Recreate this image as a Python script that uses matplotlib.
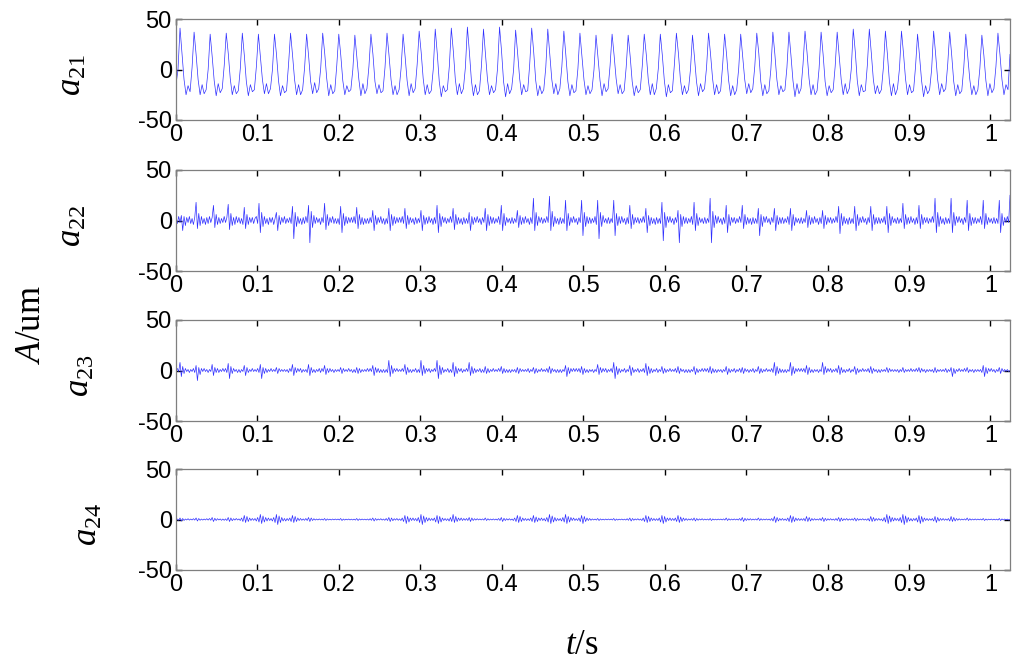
import numpy as np
import matplotlib

matplotlib.use("Agg")
import matplotlib.pyplot as plt

plt.rcParams.update(
    {
        "font.family": "Liberation Sans",
        "mathtext.fontset": "custom",
        "mathtext.rm": "Liberation Serif",
        "mathtext.it": "Liberation Serif:italic",
    }
)

# ---------------------------------------------------------------------------
# Data (one row ~ one shaft revolution)
# ---------------------------------------------------------------------------
T_END = 1.024
Y_TICKS = [-50, 0, 50]
X_TICKS = [0, 0.1, 0.2, 0.3, 0.4, 0.5, 0.6, 0.7, 0.8, 0.9, 1.0]
X_TICK_LABELS = ["0", "0.1", "0.2", "0.3", "0.4", "0.5", "0.6", "0.7", "0.8", "0.9", "1"]
LABELS = [r"$a_{21}$", r"$a_{22}$", r"$a_{23}$", r"$a_{24}$"]

a21 = [
    [-15, 0, 41, 16, -10, -25, -16, -22],
    [2, 37, 15, -10, -25, -15, -24, -20],
    [0, 35, 13, -11, -26, -14, -23, -19],
    [4, 36, 16, -9, -25, -16, -24, -21],
    [1, 36, 14, -12, -26, -15, -22, -20],
    [3, 35, 12, -10, -24, -14, -24, -19],
    [0, 35, 15, -11, -26, -16, -23, -21],
    [5, 36, 14, -10, -25, -15, -25, -20],
    [2, 35, 13, -12, -24, -13, -23, -19],
    [1, 36, 16, -9, -26, -15, -24, -21],
    [4, 35, 14, -11, -25, -16, -22, -20],
    [0, 34, 12, -10, -26, -14, -24, -19],
    [3, 35, 15, -12, -24, -15, -23, -21],
    [2, 36, 14, -10, -25, -16, -25, -20],
    [1, 35, 13, -11, -26, -14, -23, -19],
    [5, 38, 17, -9, -25, -15, -24, -21],
    [0, 40, 16, -12, -27, -16, -22, -20],
    [3, 41, 18, -10, -25, -14, -24, -19],
    [2, 42, 17, -11, -26, -15, -25, -21],
    [4, 40, 15, -10, -25, -16, -23, -20],
    [1, 42, 18, -12, -27, -14, -24, -19],
    [0, 39, 16, -9, -25, -15, -22, -21],
    [5, 41, 17, -11, -26, -16, -24, -20],
    [2, 40, 15, -10, -24, -14, -25, -19],
    [3, 38, 14, -12, -26, -15, -23, -21],
    [1, 36, 13, -10, -25, -16, -24, -20],
    [0, 34, 12, -11, -26, -14, -22, -19],
    [4, 35, 14, -9, -24, -15, -24, -21],
    [2, 34, 13, -12, -26, -16, -23, -20],
    [3, 35, 15, -10, -25, -14, -25, -19],
    [1, 35, 14, -11, -27, -15, -23, -21],
    [5, 36, 16, -10, -25, -16, -24, -20],
    [0, 34, 12, -12, -26, -14, -22, -19],
    [2, 36, 15, -9, -25, -15, -24, -21],
    [4, 35, 14, -11, -26, -16, -25, -20],
    [1, 35, 13, -10, -24, -14, -23, -19],
    [3, 36, 16, -12, -26, -15, -24, -21],
    [0, 37, 15, -10, -25, -16, -22, -20],
    [2, 37, 14, -11, -27, -14, -24, -19],
    [5, 38, 17, -9, -25, -15, -25, -21],
    [1, 37, 15, -12, -26, -16, -23, -20],
    [3, 37, 14, -10, -25, -14, -24, -19],
    [0, 40, 18, -11, -26, -15, -22, -21],
    [4, 40, 16, -10, -24, -16, -24, -20],
    [2, 38, 15, -12, -26, -14, -25, -19],
    [1, 38, 16, -9, -25, -15, -23, -21],
    [3, 35, 13, -11, -27, -16, -24, -20],
    [0, 38, 15, -10, -25, -14, -22, -19],
    [5, 37, 14, -12, -26, -15, -24, -21],
    [2, 35, 13, -10, -25, -16, -25, -20],
    [1, 34, 14, -11, -26, -14, -23, -19],
    [3, 36, 15, -10, -25, -15, -20, 15],
]

a22 = [
    [0, -3, 4, -2, 5, -10, 4, -5, 3, -2, 4, -3],
    [2, -4, 3, 18, -8, 7, -5, 4, -3, 2, -4, 3],
    [-3, 4, -2, 3, 15, -7, 6, -4, 3, -3, 2, -2],
    [4, -2, 3, 16, -9, 7, -5, 3, -4, 4, -2, 3],
    [-3, 2, -4, 13, -8, 6, -4, 3, -2, 3, -3, 2],
    [4, -3, 17, -12, 8, -6, 4, -3, 2, -4, 3, -2],
    [3, -4, 2, 8, -10, 5, -4, 3, -2, 4, -3, 2],
    [-2, 3, -3, 14, -18, 8, -6, 4, -3, 2, -4, 3],
    [-3, 4, -2, 15, -22, 9, -7, 5, -3, 3, -2, 2],
    [-4, 3, -2, 17, -9, 6, -5, 3, -2, 4, -3, 2],
    [-3, 2, -4, 14, -12, 7, -5, 4, -3, 3, -2, 3],
    [-2, 4, -3, 13, -8, 6, -4, 3, -4, 2, -3, 2],
    [-3, 3, -2, 10, -10, 5, -4, 3, -2, 4, -3, 2],
    [-4, 2, -3, 12, -10, 6, -5, 4, -3, 3, -2, 3],
    [-2, 4, -3, 12, -8, 5, -4, 3, -2, 2, -4, 3],
    [-3, 2, -2, 10, -10, 5, -4, 3, -3, 4, -2, 2],
    [-4, 3, -3, 15, -12, 7, -6, 4, -2, 3, -3, 2],
    [-2, 4, -2, 12, -9, 6, -4, 3, -3, 2, -4, 3],
    [-3, 2, -3, 8, -10, 4, -4, 3, -2, 4, -2, 2],
    [-4, 3, -2, 12, -10, 6, -5, 4, -3, 3, -3, 2],
    [-2, 4, -4, 15, -10, 7, -5, 3, -2, 2, -3, 3],
    [-3, 2, -2, 10, -7, 5, -4, 3, -3, 4, -2, 2],
    [-4, 3, -3, 22, -10, 8, -5, 4, -2, 3, -3, 2],
    [-2, 4, -2, 24, -10, 9, -6, 4, -3, 2, -4, 3],
    [-3, 2, -3, 20, -10, 7, -5, 3, -2, 4, -2, 2],
    [-4, 3, -2, 20, -15, 8, -6, 4, -3, 3, -3, 2],
    [-2, 4, -4, 20, -18, 8, -6, 5, -2, 2, -3, 3],
    [-3, 2, -2, 20, -15, 7, -5, 4, -3, 4, -2, 2],
    [-4, 3, -3, 15, -8, 6, -4, 3, -2, 3, -3, 2],
    [-2, 4, -2, 12, -12, 5, -5, 3, -3, 2, -4, 3],
    [-3, 2, -3, 18, -20, 8, -7, 4, -2, 4, -2, 2],
    [-4, 3, -2, 10, -22, 6, -6, 4, -3, 3, -3, 2],
    [-2, 4, -4, 18, -10, 7, -5, 3, -2, 2, -3, 3],
    [-3, 2, -2, 22, -22, 9, -7, 5, -3, 4, -2, 2],
    [-4, 3, -3, 15, -12, 6, -5, 3, -2, 3, -3, 2],
    [-2, 4, -2, 15, -8, 6, -4, 3, -3, 2, -4, 3],
    [-3, 2, -3, 12, -15, 6, -6, 4, -2, 4, -2, 2],
    [-4, 3, -2, 12, -10, 5, -4, 3, -3, 3, -3, 2],
    [-2, 4, -4, 12, -10, 6, -5, 3, -2, 2, -3, 3],
    [-3, 2, -2, 10, -7, 5, -4, 3, -3, 4, -2, 2],
    [-4, 3, -3, 10, -8, 5, -4, 3, -2, 3, -3, 2],
    [-2, 4, -2, 14, -13, 7, -5, 4, -3, 2, -4, 3],
    [-3, 2, -3, 14, -10, 6, -5, 3, -2, 4, -2, 2],
    [-4, 3, -2, 14, -10, 6, -4, 3, -3, 3, -3, 2],
    [-2, 4, -4, 14, -12, 7, -5, 4, -2, 2, -3, 3],
    [-3, 2, -2, 17, -8, 6, -4, 3, -3, 4, -2, 2],
    [-4, 3, -3, 15, -8, 6, -4, 3, -2, 3, -3, 2],
    [-2, 4, -2, 22, -12, 8, -6, 4, -3, 2, -4, 3],
    [-3, 2, -3, 22, -12, 8, -5, 4, -2, 4, -2, 2],
    [-4, 3, -2, 20, -10, 7, -5, 3, -3, 3, -3, 2],
    [-2, 4, -4, 20, -8, 7, -4, 3, -2, 2, -3, 3],
    [-3, 2, -3, 20, -12, 7, -5, 3, -2, 4, -2, 25],
]

a23 = [
    [0, 2, -1, 8, -6, 4, -3, 2, -1, 1, -2, 1],
    [-1, 2, -2, 5, -10, 3, -4, 2, -1, 2, -1, 1],
    [-2, 1, -1, 6, -5, 3, -2, 2, -2, 1, -1, 2],
    [-1, 2, -2, 7, -8, 4, -3, 2, -1, 1, -2, 1],
    [-2, 1, -1, 5, -5, 3, -2, 1, -1, 2, -1, 1],
    [-1, 2, -2, 6, -8, 3, -3, 2, -2, 1, -1, 2],
    [-1, 1, -1, 3, -3, 2, -1, 1, -1, 1, -1, 1],
    [-2, 2, -1, 6, -5, 3, -2, 2, -1, 2, -2, 1],
    [-1, 1, -2, 6, -5, 3, -2, 1, -2, 1, -1, 2],
    [-2, 2, -1, 5, -4, 2, -2, 2, -1, 1, -2, 1],
    [-1, 1, -1, 3, -3, 2, -1, 1, -1, 2, -1, 1],
    [-2, 1, -2, 3, -3, 2, -2, 1, -1, 1, -1, 2],
    [-1, 2, -1, 5, -5, 3, -2, 2, -2, 1, -2, 1],
    [-2, 1, -2, 10, -6, 5, -3, 2, -1, 2, -1, 1],
    [-1, 2, -1, 6, -4, 3, -2, 1, -2, 1, -1, 2],
    [-2, 1, -2, 10, -5, 5, -3, 2, -1, 2, -2, 1],
    [-1, 2, -1, 10, -8, 5, -4, 3, -2, 1, -1, 2],
    [-2, 1, -2, 8, -6, 4, -3, 2, -1, 2, -2, 1],
    [-1, 2, -1, 8, -5, 4, -3, 2, -2, 1, -1, 2],
    [-2, 1, -2, 4, -3, 2, -2, 1, -1, 2, -1, 1],
    [-1, 2, -1, 4, -3, 2, -2, 1, -2, 1, -2, 1],
    [-1, 1, -2, 3, -3, 2, -1, 1, -1, 1, -1, 2],
    [-2, 1, -1, 3, -3, 2, -2, 1, -1, 2, -1, 1],
    [-1, 2, -2, 4, -3, 2, -1, 1, -2, 1, -2, 1],
    [-2, 1, -1, 5, -6, 3, -3, 2, -1, 2, -1, 2],
    [-1, 2, -2, 4, -4, 2, -2, 1, -2, 1, -1, 1],
    [-2, 1, -1, 6, -4, 3, -2, 2, -1, 2, -2, 1],
    [-1, 2, -2, 8, -8, 4, -4, 2, -2, 1, -1, 2],
    [-2, 1, -1, 5, -5, 3, -2, 1, -1, 2, -2, 1],
    [-1, 2, -2, 7, -5, 4, -3, 2, -2, 1, -1, 2],
    [-2, 1, -1, 4, -3, 2, -2, 1, -1, 2, -1, 1],
    [-1, 2, -2, 4, -3, 2, -1, 1, -2, 1, -2, 1],
    [-2, 1, -1, 4, -4, 2, -2, 1, -1, 2, -1, 2],
    [-1, 2, -2, 4, -3, 2, -2, 1, -2, 1, -1, 1],
    [-2, 1, -1, 4, -4, 2, -2, 1, -1, 2, -2, 1],
    [-1, 2, -2, 3, -3, 2, -1, 1, -2, 1, -1, 2],
    [-2, 1, -1, 4, -3, 2, -2, 1, -1, 2, -1, 1],
    [-1, 2, -2, 8, -5, 4, -3, 2, -2, 1, -2, 1],
    [-2, 1, -1, 8, -5, 4, -3, 2, -1, 2, -1, 2],
    [-1, 2, -2, 5, -4, 3, -2, 1, -2, 1, -1, 1],
    [-2, 1, -1, 8, -4, 4, -2, 2, -1, 2, -2, 1],
    [-1, 2, -2, 5, -4, 3, -2, 1, -2, 1, -1, 2],
    [-2, 1, -1, 4, -4, 2, -2, 1, -1, 2, -1, 1],
    [-1, 2, -2, 4, -3, 2, -1, 1, -2, 1, -2, 1],
    [-1, 1, -1, 3, -2, 2, -1, 1, -1, 1, -1, 1],
    [-2, 1, -1, 3, -2, 1, -1, 1, -1, 2, -1, 1],
    [-1, 2, -1, 3, -2, 2, -1, 1, -2, 1, -1, 1],
    [-1, 1, -2, 3, -2, 1, -1, 1, -1, 1, -1, 2],
    [-2, 1, -1, 3, -6, 2, -3, 1, -1, 2, -1, 1],
    [-1, 2, -1, 3, -2, 1, -1, 1, -2, 1, -1, 1],
    [-1, 1, -2, 5, -6, 3, -3, 2, -1, 2, -1, 1],
    [-2, 1, -1, 3, -3, 2, -1, 1, -1, 1, -1, 0],
]

a24 = [
    [0, 0.5, -0.8, 1.5, -1.5, 1, -1, 0.5, -0.5, 0.8, -0.6, 0.5],
    [-0.5, 0.8, -0.6, 1.5, -1.5, 1, -0.8, 0.5, -0.6, 0.5, -0.5, 0.8],
    [-0.6, 1, -0.8, 2, -2, 1.2, -1, 0.8, -0.5, 0.6, -0.8, 0.5],
    [-0.8, 0.6, -1, 2, -2, 1.5, -1.2, 0.8, -0.6, 1, -0.5, 0.6],
    [-1, 1.5, -2, 4, -3, 3, -2, 1.5, -1, 1, -0.8, 1],
    [-1.5, 2, -2.5, 5, -4, 3.5, -2.5, 2, -1.5, 1.5, -1, 1],
    [-1.5, 2, -3, 5, -5, 3.5, -3, 2, -1.5, 1, -1.5, 1],
    [-1, 1.5, -2, 4, -3, 3, -2, 1.5, -1, 1, -0.8, 0.6],
    [-0.8, 1, -1, 2, -2, 1.5, -1, 0.8, -0.6, 0.5, -0.5, 0.6],
    [-0.5, 0.5, -0.6, 1, -1, 0.6, -0.5, 0.4, -0.5, 0.5, -0.4, 0.5],
    [-0.4, 0.5, -0.5, 1, -1, 0.5, -0.6, 0.4, -0.4, 0.5, -0.5, 0.4],
    [-0.5, 0.4, -0.6, 1, -1, 0.6, -0.5, 0.5, -0.4, 0.4, -0.5, 0.5],
    [-0.6, 0.8, -0.8, 1.5, -1.5, 1, -0.8, 0.6, -0.5, 0.8, -0.6, 0.5],
    [-0.8, 1, -1, 2, -2, 1.5, -1.2, 0.8, -0.6, 1, -0.8, 0.6],
    [-1, 1.5, -2, 4, -4, 3, -2.5, 1.5, -1, 1.5, -1, 1],
    [-1.5, 2, -3, 5, -5, 3.5, -3, 2, -1.5, 1.5, -1, 1],
    [-1, 1.5, -2.5, 4, -4, 3, -2.5, 1.5, -1, 1, -1, 0.8],
    [-1.5, 2, -2, 5, -3, 3, -2, 1.5, -1, 1.5, -1, 1],
    [-0.8, 1, -1, 2, -2, 1.5, -1, 0.8, -0.6, 0.8, -0.5, 0.6],
    [-0.5, 0.6, -0.6, 1.5, -1, 0.8, -0.6, 0.5, -0.5, 0.6, -0.5, 0.5],
    [-0.6, 1, -1, 2, -2, 1.2, -1, 0.8, -0.6, 0.8, -0.6, 0.5],
    [-1, 1.5, -2, 4, -3, 3, -2, 1.5, -1, 1, -1, 0.8],
    [-1, 1.5, -2, 4, -3, 2.5, -2, 1.5, -1, 1.5, -1, 1],
    [-1.5, 2, -2.5, 5, -4, 3.5, -2.5, 2, -1.5, 1, -1, 1],
    [-1.5, 2, -2.5, 5, -4, 3, -2.5, 2, -1, 1.5, -1, 0.8],
    [-1, 1.5, -2, 4, -4, 3, -2, 1.5, -1, 1, -0.8, 0.6],
    [-0.5, 0.5, -0.6, 1, -1, 0.6, -0.5, 0.4, -0.5, 0.5, -0.4, 0.5],
    [-0.4, 0.5, -0.5, 1, -1, 0.5, -0.6, 0.4, -0.4, 0.5, -0.5, 0.4],
    [-0.6, 0.8, -0.8, 1.5, -1.5, 1, -0.8, 0.6, -0.5, 0.8, -0.6, 0.5],
    [-1, 1.5, -2, 4, -3, 3, -2, 1.5, -1, 1, -1, 0.8],
    [-1, 1.5, -2.5, 4, -4, 3, -2.5, 1.5, -1, 1.5, -1, 1],
    [-1, 1.5, -2, 4, -3, 2.5, -2, 1.5, -1, 1, -0.8, 0.6],
    [-0.6, 0.8, -0.8, 1.5, -1.5, 1, -0.8, 0.6, -0.5, 0.8, -0.6, 0.5],
    [-0.5, 0.5, -0.6, 1, -1, 0.6, -0.5, 0.4, -0.5, 0.5, -0.4, 0.5],
    [-0.5, 0.6, -0.6, 1.5, -1, 0.8, -0.6, 0.5, -0.5, 0.6, -0.5, 0.5],
    [-0.6, 1, -1, 2, -2, 1.2, -1, 0.8, -0.6, 0.8, -0.6, 0.5],
    [-0.5, 0.6, -0.6, 1.5, -1, 0.8, -0.6, 0.5, -0.5, 0.6, -0.5, 0.5],
    [-0.8, 1, -1.5, 3, -3, 2, -1.5, 1, -0.8, 1, -0.8, 0.6],
    [-1, 1.5, -2, 4, -3, 3, -2, 1.5, -1, 1, -1, 0.8],
    [-0.8, 1, -1.5, 3, -2, 2, -1.5, 1, -0.8, 0.8, -0.6, 0.5],
    [-0.6, 1, -1, 2, -2, 1.2, -1, 0.8, -0.6, 0.8, -0.6, 0.5],
    [-0.8, 1, -1, 2, -2, 1.5, -1.2, 0.8, -0.6, 1, -0.8, 0.6],
    [-0.6, 0.8, -0.8, 1.5, -1.5, 1, -0.8, 0.6, -0.5, 0.8, -0.6, 0.5],
    [-0.8, 1, -1.5, 3, -2, 2, -1.5, 1, -0.8, 1, -0.8, 0.6],
    [-1.5, 2, -2.5, 5, -4, 3.5, -2.5, 2, -1.5, 1.5, -1, 1],
    [-1.5, 2, -3, 5, -5, 3.5, -3, 2, -1.5, 1, -1.5, 1],
    [-1, 1.5, -2.5, 4, -4, 3, -2.5, 1.5, -1, 1, -1, 0.8],
    [-0.8, 1, -1.5, 3, -3, 2, -1.5, 1, -0.8, 1, -0.8, 0.6],
    [-0.8, 1, -1.5, 3, -2, 2, -1.5, 1, -0.8, 0.8, -0.6, 0.5],
    [-0.5, 0.6, -0.6, 1.5, -1, 0.8, -0.6, 0.5, -0.5, 0.6, -0.5, 0.5],
    [-0.4, 0.5, -0.5, 1, -1, 0.5, -0.6, 0.4, -0.4, 0.5, -0.5, 0.4],
    [-0.5, 0.4, -0.6, 1, -1, 0.6, -0.5, 0.5, -0.4, 0.4, -0.5, 0],
]

SIGNALS = [a21, a22, a23, a24]

# ---------------------------------------------------------------------------
# Figure
# ---------------------------------------------------------------------------
W, H = 1024, 664
fig = plt.figure(figsize=(W / 100, H / 100), dpi=100)

# axes boxes in pixels: (top, bottom)
boxes = [(19, 120), (170, 271), (320, 421), (469, 570)]
label_x = [72, 72, 80, 87]
left_px, right_px = 176, 1010

for i, (sig, (top, bot)) in enumerate(zip(SIGNALS, boxes)):
    ax = fig.add_axes(
        [left_px / W, 1 - bot / H, (right_px - left_px) / W, (bot - top) / H]
    )
    y = np.ravel(np.array(sig, dtype=float))
    t = np.linspace(0, T_END, len(y))
    ax.plot(t, y, color="#2f2fff", lw=0.5)

    ax.set_xlim(0, T_END)
    ax.set_ylim(-50, 50)
    ax.set_xticks(X_TICKS)
    ax.set_xticklabels(X_TICK_LABELS)
    ax.set_yticks(Y_TICKS)
    ax.set_yticklabels([str(v) for v in Y_TICKS])
    ax.tick_params(
        direction="in", length=4, width=1.0, color="black",
        top=True, right=True, labelsize=17, pad=3,
    )
    for sp in ax.spines.values():
        sp.set_color("#7f7f7f")
        sp.set_linewidth(0.9)

    fig.text(
        label_x[i] / W, 1 - (top + bot) / 2 / H - 0.008, LABELS[i],
        rotation=90, ha="center", va="center", fontsize=25,
    )

fig.text(32 / W, 1 - 325 / H, r"$A$/um", rotation=90, ha="center",
         va="center", fontsize=25, family="Liberation Serif")
fig.text(582 / W, 1 - 645 / H, r"$t$/s", ha="center", va="center",
         fontsize=25, family="Liberation Serif")

fig.savefig("out.png", dpi=100)
